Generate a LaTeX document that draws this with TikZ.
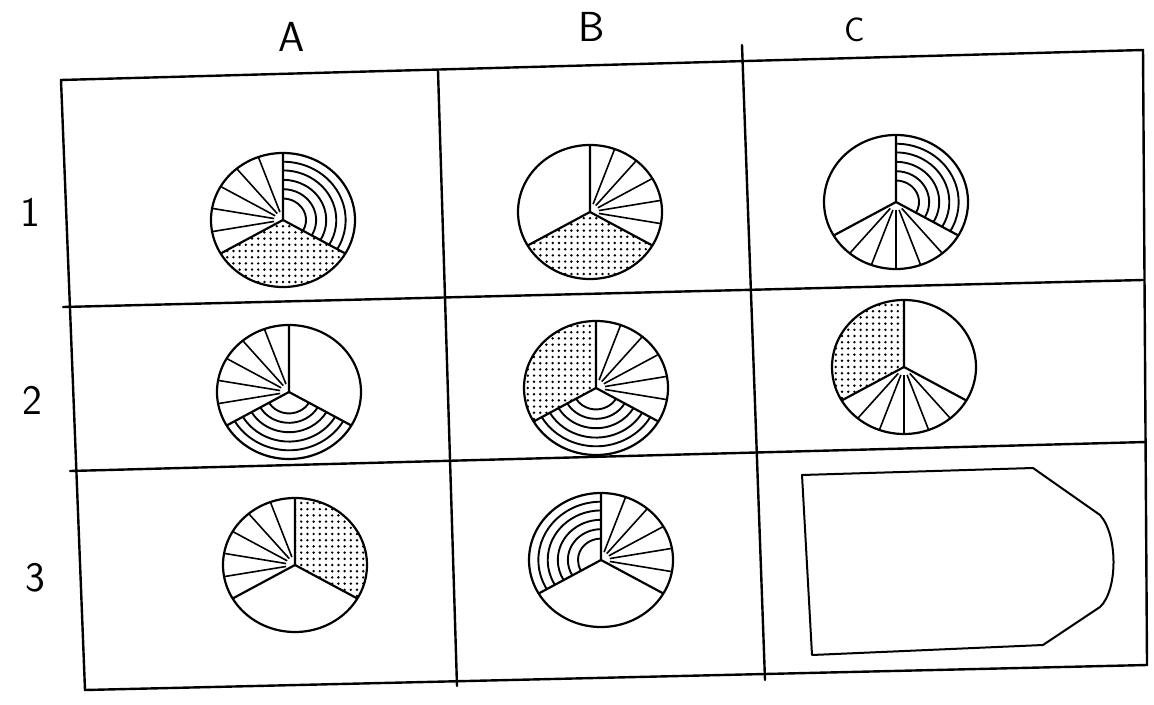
\documentclass[tikz,border=0pt]{standalone}
\tikzset{
  gridline/.style={line width=1.2pt, line cap=round},
  pieline/.style={line width=1.1pt},
  rayline/.style={line width=0.8pt},
  arcline/.style={line width=0.95pt},
  shapeline/.style={line width=1pt, line join=round},
  lbl/.style={font=\sffamily\fontsize{21}{22}\selectfont, inner sep=0pt},
}
\newcommand\secblank[1]{}
\newcommand\secrays[1]{%
  \foreach \k in {1,...,5}{%
    \draw[rayline] ({9*cos(#1+20*\k)},{8.4*sin(#1+20*\k)}) -- ({72*cos(#1+20*\k)},{67*sin(#1+20*\k)});}}
\newcommand\secarcs[1]{%
  \foreach \f in {0.32,0.46,0.60,0.74,0.87}{%
    \draw[arcline] ({\f*72*cos(#1)},{\f*67*sin(#1)}) arc[start angle=#1, delta angle=120, x radius=\f*72, y radius=\f*67];}}
\newcommand\secdots[1]{%
  \begin{scope}
    \clip (0,0) -- ({72*cos(#1)},{67*sin(#1)}) arc[start angle=#1, delta angle=120, x radius=72, y radius=67] -- cycle;
    \foreach \i in {-12,...,12}{\foreach \j in {-12,...,12}{\fill (\i*6.2,\j*6.2) circle[radius=1.35];}}
  \end{scope}}
% center, top-left, top-right, bottom
\newcommand\drawpie[4]{%
  \begin{scope}[shift={#1}]
    #2{90}#3{-30}#4{210}
    \draw[pieline] (0,0) -- (0,67) (0,0) -- ({72*cos(210)},{67*sin(210)}) (0,0) -- ({72*cos(330)},{67*sin(330)});
    \draw[pieline] (0,0) ellipse[x radius=72, y radius=67];
  \end{scope}}
\begin{document}
\begin{tikzpicture}[x=0.5pt,y=0.5pt]
\useasboundingbox (0,0) rectangle (1154,-705);
% grid corners
\coordinate (tl) at (61,-80);
\coordinate (tr) at (1143,-50);
\coordinate (bl) at (85,-690);
\coordinate (br) at (1147,-665);
\draw[gridline] (tl) -- (tr) -- (br) -- (bl) -- cycle;
\draw[gridline] (63,-307) -- (1143,-280);
\draw[gridline] (70,-471) -- (1146,-442);
\draw[gridline] (438,-71) -- (457,-686);
\draw[gridline] (742,-45) -- (765,-680);
% labels
\node[lbl] (la) at (292,-37) {A};
\node[lbl] (lb) at (592,-27) {B};
\node[lbl, font=\sffamily\fontsize{17}{18}\selectfont] (lc) at (855,-30) {C};
\node[lbl] (l1) at (30,-212) {1};
\node[lbl] (l2) at (32,-400) {2};
\node[lbl] (l3) at (35,-578) {3};
% pies
\drawpie{(283,-220)}{\secrays}{\secarcs}{\secdots}
\drawpie{(590,-212)}{\secblank}{\secrays}{\secdots}
\drawpie{(896,-202)}{\secblank}{\secarcs}{\secrays}
\drawpie{(289,-392)}{\secrays}{\secblank}{\secarcs}
\drawpie{(596,-388)}{\secdots}{\secrays}{\secarcs}
\drawpie{(904,-367)}{\secdots}{\secblank}{\secrays}
\drawpie{(295,-565)}{\secrays}{\secdots}{\secblank}
\drawpie{(601,-560)}{\secarcs}{\secrays}{\secblank}
% answer frame
\draw[shapeline] (802,-475) -- (1033,-468) -- (1100,-515)
  .. controls (1118,-535) and (1118,-590) .. (1100,-607)
  -- (1043,-645) -- (812,-655) -- cycle;
\end{tikzpicture}
\end{document}
